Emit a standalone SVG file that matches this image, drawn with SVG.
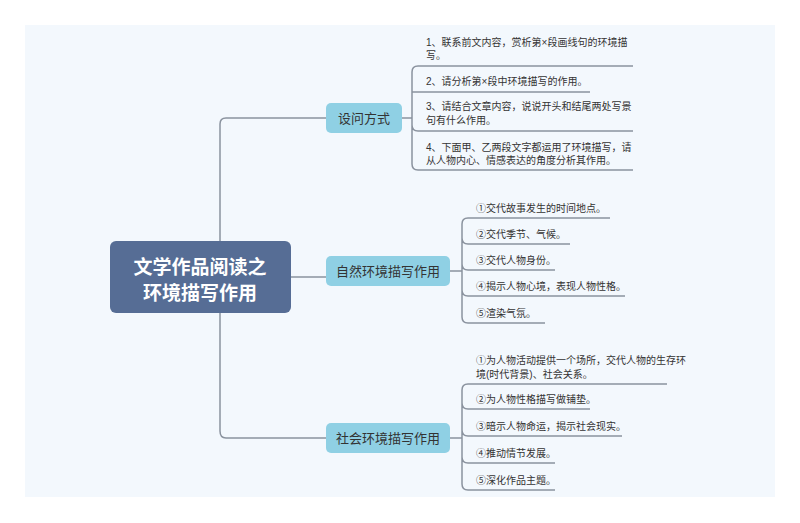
<svg xmlns="http://www.w3.org/2000/svg" width="800" height="523" viewBox="0 0 800 523">
<style>
.t{font-family:"Liberation Sans","Noto Sans CJK SC",sans-serif;font-size:10px;fill:#333}
.b{font-family:"Liberation Sans","Noto Sans CJK SC",sans-serif;font-size:13px;fill:#333;text-anchor:middle}
.bx{fill:#8fd0e4}
.c{fill:none;stroke:#8a929e;stroke-width:1.5}
</style>
<rect width="800" height="523" fill="#fff"/>
<rect x="25" y="25" width="750" height="472" fill="#f3f8fd"/>
<g id="connectors">
<path class="c" d="M291 277H326M220 241V124Q220 118 226 118H326M220 313V431Q220 438 226 438H326"/>
<path class="c" d="M402 118H412M418 66Q412 66 412 72V164Q412 170 418 170H633M412 92Q412 92 418 92H590M412 125Q412 131 418 131H633M418 66H633"/>
<path class="c" d="M450 271H462M468 218Q462 218 462 224V317Q462 323 468 323H545M468 218H610M462 238Q462 244 468 244H570M462 264Q462 270 468 270H555M462 290Q462 296 468 296H625"/>
<path class="c" d="M450 438H462M468 384Q462 384 462 390V484Q462 490 468 490H555M468 384H667M462 403Q462 409 468 409H590M462 430Q462 436 468 436H622M462 457Q462 463 468 463H555"/>
</g>
<g id="root"><rect x="110" y="241" width="181" height="72" rx="6" fill="#566d95"/>
<text x="200" y="274" text-anchor="middle" font-family="Liberation Sans,Noto Sans CJK SC,sans-serif" font-size="19" font-weight="bold" fill="#fff">文学作品阅读之</text>
<text x="200" y="300" text-anchor="middle" font-family="Liberation Sans,Noto Sans CJK SC,sans-serif" font-size="19" font-weight="bold" fill="#fff">环境描写作用</text></g>
<g id="b1"><rect class="bx" x="326" y="103" width="76" height="30" rx="5"/><text class="b" x="364" y="123">设问方式</text></g>
<g id="b2"><rect class="bx" x="326" y="256" width="124" height="30" rx="5"/><text class="b" x="388" y="276">自然环境描写作用</text></g>
<g id="b3"><rect class="bx" x="326" y="423" width="124" height="30" rx="5"/><text class="b" x="388" y="443">社会环境描写作用</text></g>
<g id="l1"><text class="t" x="426" y="46">1、联系前文内容，赏析第×段画线句的环境描</text><text class="t" x="426" y="59">写。</text></g>
<g id="l2"><text class="t" x="426" y="85">2、请分析第×段中环境描写的作用。</text></g>
<g id="l3"><text class="t" x="426" y="110">3、请结合文章内容，说说开头和结尾两处写景</text><text class="t" x="426" y="124">句有什么作用。</text></g>
<g id="l4"><text class="t" x="426" y="151">4、下面甲、乙两段文字都运用了环境描写，请</text><text class="t" x="426" y="164">从人物内心、情感表达的角度分析其作用。</text></g>
<g id="n1"><text class="t" x="476" y="212">①交代故事发生的时间地点。</text></g>
<g id="n2"><text class="t" x="476" y="238">②交代季节、气候。</text></g>
<g id="n3"><text class="t" x="476" y="264">③交代人物身份。</text></g>
<g id="n4"><text class="t" x="476" y="290">④揭示人物心境，表现人物性格。</text></g>
<g id="n5"><text class="t" x="476" y="317">⑤渲染气氛。</text></g>
<g id="s1"><text class="t" x="476" y="364">①为人物活动提供一个场所，交代人物的生存环</text><text class="t" x="476" y="378">境(时代背景)、社会关系。</text></g>
<g id="s2"><text class="t" x="476" y="403">②为人物性格描写做铺垫。</text></g>
<g id="s3"><text class="t" x="476" y="430">③暗示人物命运，揭示社会现实。</text></g>
<g id="s4"><text class="t" x="476" y="457">④推动情节发展。</text></g>
<g id="s5"><text class="t" x="476" y="484">⑤深化作品主题。</text></g>
</svg>
